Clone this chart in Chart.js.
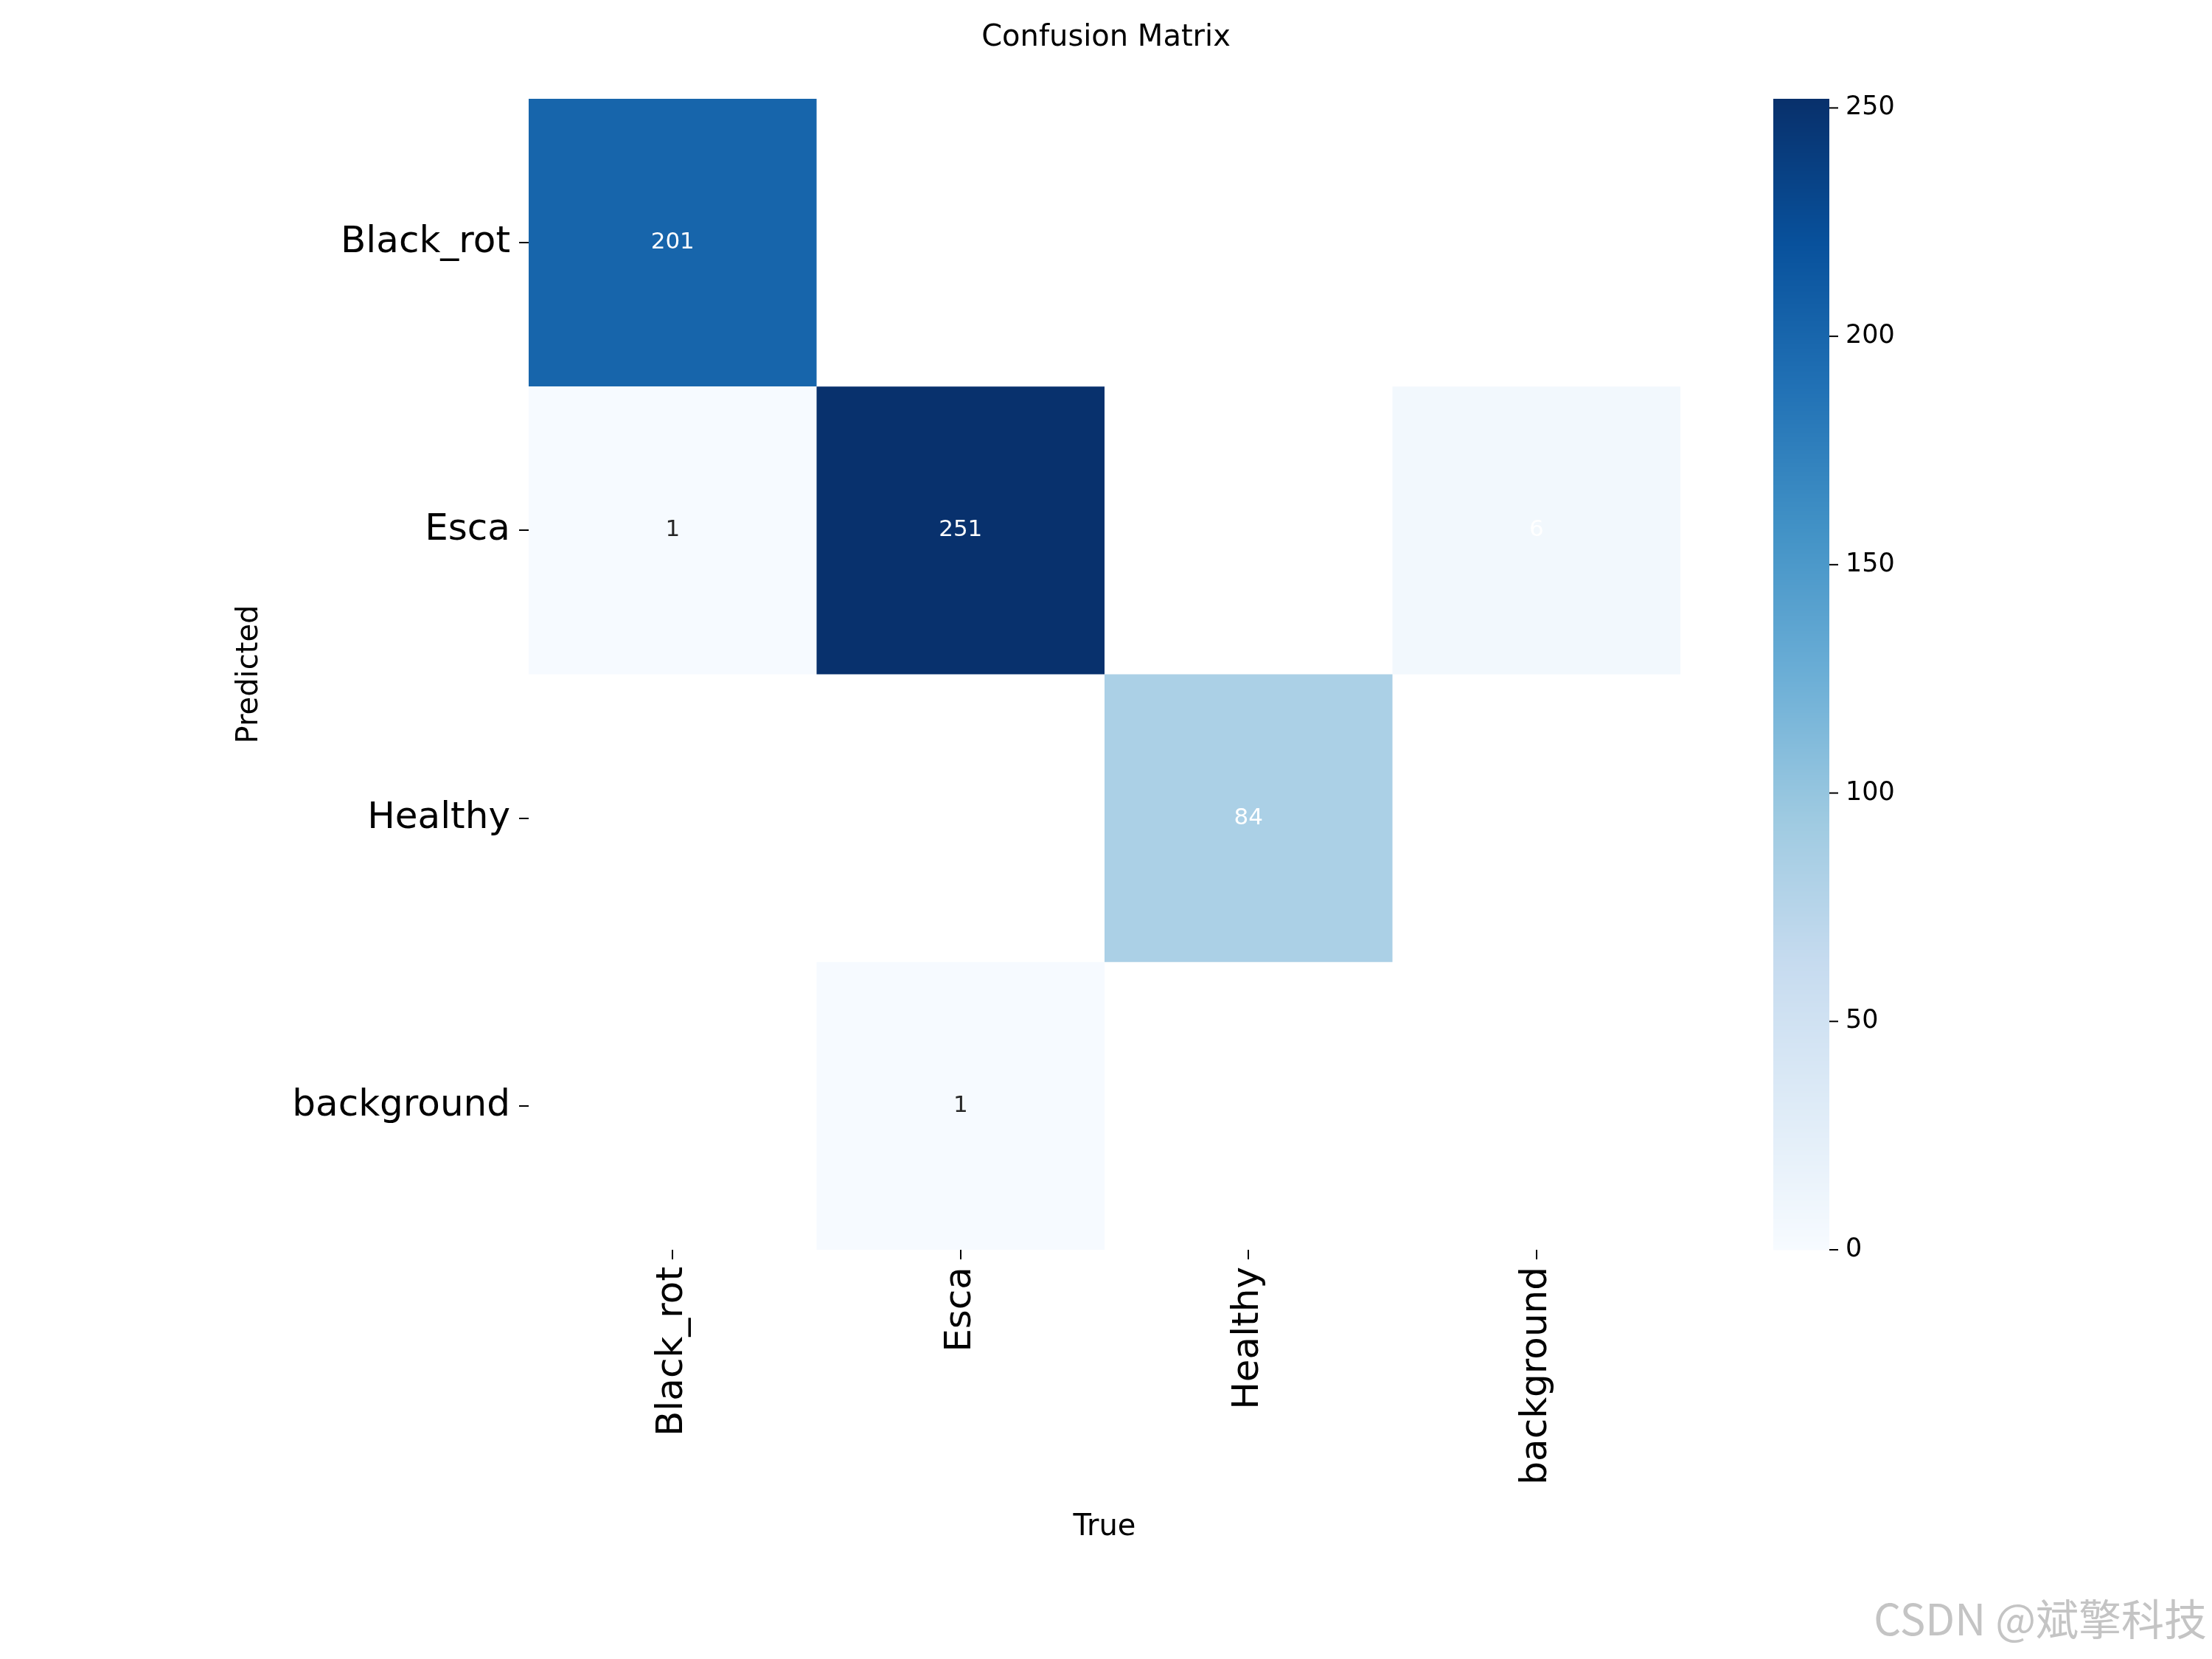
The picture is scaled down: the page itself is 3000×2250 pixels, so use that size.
<!DOCTYPE html>
<html><head><meta charset="utf-8">
<script src="https://cdn.jsdelivr.net/npm/chart.js@4.4.0/dist/chart.umd.min.js"></script>
<style>html,body{margin:0;padding:0;background:#fff}</style>
</head><body>
<canvas id="c" width="3000" height="2250" style="width:3000px;height:2250px"></canvas>
<script>
const trueLabels = ['Black_rot','Esca','Healthy','background'];
const predLabels = ['Black_rot','Esca','Healthy','background'];
const row0 = [201,0,0,0];
const row1 = [1,251,0,6];
const row2 = [0,0,84,0];
const row3 = [0,1,0,0];
const matrix = [row0,row1,row2,row3];
const cbTicks = [0,50,100,150,200,250];
const vmax = 252;

const stops = ['#f7fbff','#deebf7','#c6dbef','#9ecae1','#6baed6','#4292c6','#2171b5','#08519c','#08306b'];
function hex(h){return [1,3,5].map(i=>parseInt(h.substr(i,2),16));}
function blues(t){
  t=Math.max(0,Math.min(1,t));
  const p=t*8, i=Math.min(7,Math.floor(p)), f=p-i;
  const a=hex(stops[i]), b=hex(stops[i+1]);
  return 'rgb('+a.map((v,k)=>Math.round(v+(b[k]-v)*f)).join(',')+')';
}
const F='DejaVu Sans';
const heat = {
  id:'heat',
  beforeDatasetsDraw(ch){
    const ctx=ch.ctx, xs=ch.scales.x, ys=ch.scales.y, a=ch.chartArea;
    const cw=(a.right-a.left)/trueLabels.length, rh=(a.bottom-a.top)/predLabels.length;
    ctx.save();
    matrix.forEach((row,i)=>row.forEach((v,j)=>{
      if(!v) return;
      const cx=xs.getPixelForValue(j), cy=ys.getPixelForValue(i);
      ctx.fillStyle=blues(v/vmax);
      ctx.fillRect(cx-cw/2,cy-rh/2,cw,rh);
      ctx.fillStyle = v<3 ? '#262626' : '#ffffff';
      ctx.font='31px '+F; ctx.textAlign='center'; ctx.textBaseline='middle';
      ctx.fillText(String(v),cx,cy);
    }));
    const L=2405,R=2481,T=a.top,B=a.bottom;
    for(let y=T;y<B;y++){ctx.fillStyle=blues((B-y)/(B-T));ctx.fillRect(L,y,R-L,1.5);}
    ctx.fillStyle='#000';ctx.strokeStyle='#000';ctx.lineWidth=2;
    ctx.font='35px '+F;ctx.textAlign='left';ctx.textBaseline='middle';
    cbTicks.forEach(t=>{const y=B-(B-T)*t/vmax;ctx.beginPath();ctx.moveTo(R,y);ctx.lineTo(R+12,y);ctx.stroke();ctx.fillText(String(t),R+22,y);});
    ctx.font='40px '+F;ctx.textAlign='center';
    ctx.fillText('Confusion Matrix',1500,52);
    ctx.fillText('True',1498,2072);
    ctx.save();ctx.translate(339,(T+B)/2);ctx.rotate(-Math.PI/2);ctx.fillText('Predicted',0,0);ctx.restore();
    ctx.font='58px "Noto Sans CJK SC"';ctx.fillStyle='#c4c4c4';ctx.textAlign='right';ctx.textBaseline='alphabetic';
    ctx.fillText('CSDN @斌擎科技',2993,2218);
    ctx.restore();
  }
};
new Chart(document.getElementById('c'),{
  type:'scatter',
  data:{datasets:[{data:[]}]},
  plugins:[heat],
  options:{
    responsive:false,animation:false,
    layout:{padding:{top:134,right:721,left:0,bottom:0}},
    plugins:{legend:{display:false},tooltip:{enabled:false}},
    scales:{
      x:{type:'category',labels:trueLabels,offset:true,position:'bottom',
        border:{display:false},
        grid:{drawOnChartArea:false,drawTicks:true,tickLength:13,color:'#000',lineWidth:2,offset:false},
        ticks:{color:'#000',font:{family:F,size:50},minRotation:90,maxRotation:90,padding:10},
        afterFit(s){s.height=555;}},
      y:{type:'category',labels:predLabels,offset:true,position:'left',
        border:{display:false},
        grid:{drawOnChartArea:false,drawTicks:true,tickLength:13,color:'#000',lineWidth:2,offset:false},
        ticks:{color:'#000',font:{family:F,size:50},padding:12},
        afterFit(s){s.width=717;}}
    }
  }
});
</script>
</body></html>
